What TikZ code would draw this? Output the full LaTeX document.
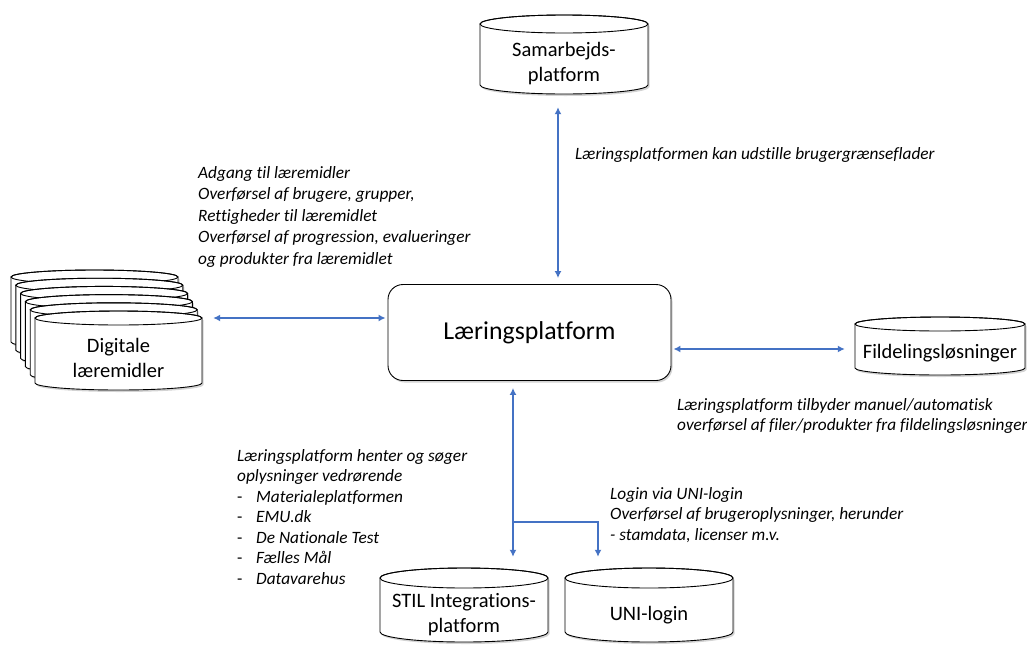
\documentclass[tikz,border=0pt]{standalone}
\usepackage{fontspec}
\setmainfont{Carlito}[Ligatures={NoCommon}]
\usetikzlibrary{arrows.meta,shadows,calc}
\definecolor{lineblue}{RGB}{68,114,196}
\tikzset{
  conn/.style={draw=lineblue, line width=1.9pt},
  biarr/.style={conn, {Latex[length=7pt,width=7pt]}-{Latex[length=7pt,width=7pt]}},
  onearr/.style={conn, -{Latex[length=7pt,width=7pt]}},
  lbl/.style={font=\itshape\fontsize{17.3}{20.5}\selectfont, align=left, anchor=north west, inner sep=0pt},
  cyltext/.style={font=\fontsize{20.5}{25}\selectfont, align=center, inner sep=0pt},
  cylsh/.style={draw=black, line width=0.9pt, fill=white,
    drop shadow={shadow xshift=1.5pt, shadow yshift=-2pt, opacity=0.35}},
  mainbox/.style={draw=black, line width=0.9pt, fill=white, rounded corners=15pt,
    drop shadow={shadow xshift=1.5pt, shadow yshift=-2pt, opacity=0.35},
    font=\fontsize{25.8}{30}\selectfont, inner sep=0pt},
}
% cx, top cy, bottom cy, rx, ry
\newcommand\drawcyl[5]{%
  \path[cylsh] (#1-#4,#2) -- (#1-#4,#3)
    arc[start angle=180,end angle=360,x radius=#4pt,y radius=#5pt]
    -- (#1+#4,#2)
    arc[start angle=0,end angle=180,x radius=#4pt,y radius=#5pt] -- cycle;
  \draw[line width=0.9pt] (#1,#2) ellipse[x radius=#4pt,y radius=#5pt];
}
% name, cx, top cy, bottom cy, rx, ry, text
\newcommand\cylnode[7]{%
  \drawcyl{#2}{#3}{#4}{#5}{#6}
  \node[cyltext, minimum width={2*#5*1pt}, minimum height={(#4-#3)*1pt}]
    (#1) at ({#2},{(#3+#4)/2+#6}) {#7};
}
\begin{document}
\begin{tikzpicture}[x=1pt,y=-1pt]
\useasboundingbox (0,0) rectangle (1027,646);

% Samarbejdsplatform
\cylnode{samar}{564}{24}{85}{84}{9}{Samarbejds-\\platform}

% Digitale laeremidler stack
\drawcyl{94.5}{277}{342}{83.5}{7}
\drawcyl{99.3}{285.2}{350.2}{83.5}{7}
\drawcyl{104.1}{293.4}{358.4}{83.5}{7}
\drawcyl{108.9}{301.6}{366.6}{83.5}{7}
\drawcyl{113.7}{309.8}{374.8}{83.5}{7}
\cylnode{dig}{118.5}{318}{383}{83.5}{7}{Digitale\\læremidler}

% Fildelingsloesninger
\cylnode{fil}{940}{324}{368}{85}{7}{Fildelingsløsninger}

% STIL and UNI-login
\cylnode{stil}{464}{578}{632}{84}{10}{STIL Integrations-\\platform}
\cylnode{uni}{649}{578}{632}{84}{10}{UNI-login}

% Central box
\node[mainbox, minimum width=283pt, minimum height=96pt] (lp) at (529.5,332.5) {Læringsplatform};

% Connectors
\draw[biarr] ([xshift=-6pt,yshift=-13pt]samar.south) -- ([xshift=28.5pt,yshift=6pt]lp.north);
\draw[biarr] ([xshift=11pt,yshift=39.5pt]dig.east) -- ([xshift=-2pt,yshift=14.5pt]lp.west);
\draw[biarr] ([xshift=2pt,yshift=-16.5pt]lp.east) -- ([xshift=-10pt,yshift=4pt]fil.west);

\coordinate (j) at (513,522);
\coordinate (stiltop) at ([yshift=31pt]stil.north);
\coordinate (unitop) at ([xshift=-51pt,yshift=31pt]uni.north);
\draw[onearr] (j) -- ([xshift=-16.5pt,yshift=-7pt]lp.south);
\draw[onearr] (j) -- (j |- stiltop);
\draw[onearr] (j) -| (unitop);

% Labels
\node[lbl, font=\itshape\fontsize{17.3}{21.5}\selectfont] (t1) at (198,166) {Adgang til læremidler\\
Overførsel af brugere, grupper,\\
Rettigheder til læremidlet\\
Overførsel af progression, evalueringer\\
og produkter fra læremidlet};

\node[lbl] (t2) at (575,147) {Læringsplatformen kan udstille brugergrænseflader};

\node[lbl] (t3) at (677,398) {Læringsplatform tilbyder manuel/automatisk\\
overførsel af filer/produkter fra fildelingsløsninger};

\node[lbl] (t4) at (610,487) {Login via UNI-login\\
Overførsel af brugeroplysninger, herunder\\
- stamdata, licenser m.v.};

\node[lbl] (t5) at (237,449) {Læringsplatform henter og søger\\
oplysninger vedrørende\\
\makebox[19pt][l]{\upshape -}Materialeplatformen\\
\makebox[19pt][l]{\upshape -}EMU.dk\\
\makebox[19pt][l]{\upshape -}De Nationale Test\\
\makebox[19pt][l]{\upshape -}Fælles Mål\\
\makebox[19pt][l]{\upshape -}Datavarehus};
\end{tikzpicture}
\end{document}
